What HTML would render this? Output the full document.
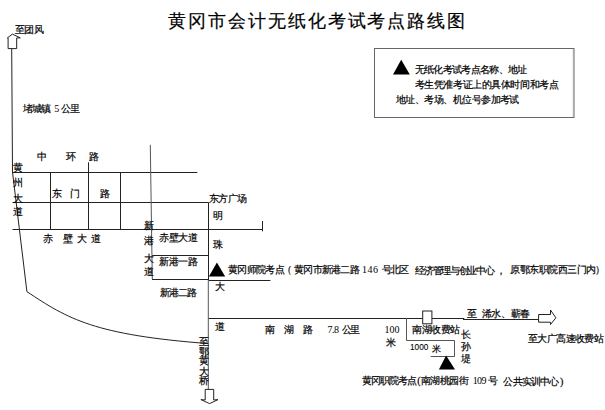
<!DOCTYPE html>
<html><head><meta charset="utf-8"><style>
html,body{margin:0;padding:0;background:#fff;width:605px;height:410px;overflow:hidden}
#c{position:relative;width:605px;height:410px}
#c div{position:absolute;font-family:"Liberation Serif",serif;font-size:10px;line-height:1;white-space:nowrap;color:#000;letter-spacing:-0.6px;-webkit-text-stroke:0.2px #000}
#c div.s{font-family:"Liberation Sans",sans-serif}
#title{color:#4a4a4a;-webkit-text-stroke:0}
</style></head><body><div id="c">
<svg width="605" height="410" viewBox="0 0 605 410" style="position:absolute;left:0;top:0">
<g fill="none" stroke="#222" stroke-width="1">
<path d="M11.7,48.6 L12.5,172 L26.9,291.6 C67.9,319 94.7,335 208.5,343.6"/>
<path d="M12.5,172.5 H197.3"/>
<path d="M12.5,202.5 H208.5"/>
<path d="M12.5,229.5 H262.5"/>
<path d="M50.5,172 V229.5"/>
<path d="M88.5,162.3 V229.5"/>
<path d="M120.5,172 V229.5"/>
<path d="M152,255.5 H208.5"/>
<path d="M152,279.5 H208.5"/>
<path d="M208.5,280.5 H270.4"/>
<path d="M208.5,202.5 V280"/>
<path d="M262.5,221 V231.3"/>
<path d="M208.5,318.5 H464.3"/>
<path d="M463,319.5 H538.6"/>
</g>
<g fill="none" stroke="#555" stroke-width="1">
<path d="M150.3,144.8 L152.3,279.3"/>
<path d="M208.3,280 V389.4"/>
<path d="M406.5,318 V340.5 H454.5 V356.5 H430.7"/>
</g>
<g fill="#fff" stroke="#222" stroke-width="1">
<rect x="422.7" y="311" width="9.2" height="12.8"/>
<path d="M538.6,314.5 H550.5 V310 L555.9,317.8 L550.5,324.5 V322.2 H538.6 Z"/>
<path d="M8.1,48.6 V37.9 H7.4 L12.4,34.1 L20.3,37.9 H16.7 V48.6 Z"/>
<path d="M205.2,389.4 V400 L200.9,399.6 L209.6,403.6 L218,399.6 L213.7,400 V389.4 Z"/>
</g>
<g fill="#000">
<path d="M208.9,276.4 L216.9,262.5 L225.2,276.4 Z"/>
<path d="M438.9,369.5 L446.1,355.4 L455,369.5 Z"/>
<path d="M393,74.4 L401.2,59.8 L409.8,74.4 Z"/>
</g>
<rect x="374.5" y="48.5" width="199.5" height="69" fill="none" stroke="#666" stroke-width="1"/>
<path d="M573.3,49 V117" stroke="#aaa" stroke-width="1" fill="none"/>
</svg>

<div id="title" class="s" style="left:167.90px;top:12.00px;letter-spacing:1.96px;font-size:18px">黄冈市会计无纸化考试考点路线图</div>
<div id="tuanfeng" style="left:15.20px;top:25.00px;letter-spacing:-0.80px">至团风</div>
<div id="dc1" style="left:22.90px;top:104.10px;letter-spacing:-0.80px">堵城镇</div>
<div id="dc2" style="left:54.30px;top:104.10px;-webkit-text-stroke:0">5</div>
<div id="dc3" style="left:61.10px;top:104.10px;letter-spacing:-1.40px">公里</div>
<div id="zh1" style="left:36.70px;top:151.60px">中</div>
<div id="zh2" style="left:65.60px;top:151.60px">环</div>
<div id="zh3" style="left:88.90px;top:151.60px">路</div>
<div id="dm1" style="left:52.00px;top:189.20px">东</div>
<div id="dm2" style="left:70.10px;top:189.20px">门</div>
<div id="dm3" style="left:100.10px;top:189.20px">路</div>
<div id="cb1" style="left:43.20px;top:233.90px">赤</div>
<div id="cb2" style="left:62.70px;top:233.90px">壁</div>
<div id="cb3" style="left:77.00px;top:233.90px">大</div>
<div id="cb4" style="left:91.10px;top:233.90px">道</div>
<div id="hz1" style="left:13.10px;top:163.00px">黄</div>
<div id="hz2" style="left:13.10px;top:178.40px">州</div>
<div id="hz3" style="left:13.10px;top:193.90px">大</div>
<div id="hz4" style="left:13.10px;top:207.00px">道</div>
<div id="dfgc" style="left:209.40px;top:193.90px;letter-spacing:-0.93px">东方广场</div>
<div id="ming" style="left:213.20px;top:210.90px">明</div>
<div id="zhu" style="left:213.20px;top:239.70px">珠</div>
<div id="da" style="left:214.70px;top:282.40px">大</div>
<div id="dao" style="left:214.70px;top:321.90px">道</div>
<div id="xg1" style="left:144.10px;top:220.60px">新</div>
<div id="xg2" style="left:144.10px;top:235.50px">港</div>
<div id="xg3" style="left:144.10px;top:254.40px">大</div>
<div id="xg4" style="left:144.10px;top:266.70px">道</div>
<div id="cbdd" style="left:159.40px;top:233.10px">赤壁大道</div>
<div id="xg1l" style="left:159.40px;top:257.40px">新港一路</div>
<div id="xg2l" style="left:160.00px;top:288.40px;letter-spacing:-0.93px">新港二路</div>
<div id="m1" style="left:227.90px;top:264.80px;letter-spacing:-0.64px">黄冈师院考点</div>
<div id="m2" style="left:281.60px;top:264.80px">（</div>
<div id="m3" style="left:294.20px;top:264.80px;letter-spacing:-0.77px">黄冈市新港二路</div>
<div id="m4" style="left:361.90px;top:264.80px;letter-spacing:0.50px;-webkit-text-stroke:0">146</div>
<div id="m5" style="left:381.70px;top:264.80px;letter-spacing:-1.50px">号北区</div>
<div id="m6" style="left:415.30px;top:265.80px;letter-spacing:-1.30px">经济管理与创业中心</div>
<div id="m7" style="left:495.80px;top:265.80px">，</div>
<div id="m8" style="left:510.40px;top:264.80px;letter-spacing:-0.52px">原鄂东职院西三门内</div>
<div id="m9" style="left:595.20px;top:264.80px">）</div>
<div id="nh1" style="left:264.80px;top:325.00px">南</div>
<div id="nh2" style="left:283.70px;top:325.00px">湖</div>
<div id="nh3" style="left:302.70px;top:325.00px">路</div>
<div id="km1" style="left:327.60px;top:325.20px;letter-spacing:-0.50px;-webkit-text-stroke:0">7.8</div>
<div id="km2" style="left:341.80px;top:325.20px;letter-spacing:-1.40px">公里</div>
<div id="h100" style="left:384.60px;top:325.10px;letter-spacing:-0.10px;-webkit-text-stroke:0">100</div>
<div id="mi" style="left:385.50px;top:338.40px">米</div>
<div id="sfz" style="left:412.40px;top:324.80px">南湖收费站</div>
<div id="k1000" class="s" style="left:409.50px;top:342.40px;letter-spacing:0.00px;font-size:9.5px;-webkit-text-stroke:0.1px #000;transform:scaleX(0.87);transform-origin:0 0">1000</div>
<div id="mi2" style="left:431.80px;top:344.80px;letter-spacing:0.00px;font-size:8.5px">米</div>
<div id="cs1" style="left:461.20px;top:330.00px">长</div>
<div id="cs2" style="left:461.20px;top:341.70px">孙</div>
<div id="cs3" style="left:461.20px;top:353.80px">堤</div>
<div id="xs1" style="left:467.20px;top:308.60px">至</div>
<div id="xs2" style="left:481.70px;top:308.60px;letter-spacing:-0.30px">浠水、蕲春</div>
<div id="dg" style="left:527.90px;top:334.10px;letter-spacing:-0.57px">至大广高速收费站</div>
<div id="b1" style="left:362.30px;top:376.20px;letter-spacing:-1.00px">黄冈职院考点</div>
<div id="b2" style="left:417.20px;top:376.20px">(</div>
<div id="b3" style="left:421.10px;top:376.20px">南湖桃园街</div>
<div id="b4" style="left:472.80px;top:376.20px;letter-spacing:-0.70px;-webkit-text-stroke:0">109</div>
<div id="b5" style="left:488.10px;top:376.20px">号</div>
<div id="b6" style="left:503.30px;top:377.20px;letter-spacing:-0.76px">公共实训中心</div>
<div id="b7" style="left:560.00px;top:377.20px">)</div>
<div id="eh1" style="left:199.40px;top:337.40px">至</div>
<div id="eh2" style="left:199.40px;top:346.80px">鄂</div>
<div id="eh3" style="left:199.40px;top:355.90px">黄</div>
<div id="eh4" style="left:199.40px;top:367.00px">大</div>
<div id="eh5" style="left:199.40px;top:376.40px">桥</div>
<div id="l1" style="left:414.80px;top:65.20px;letter-spacing:-0.67px">无纸化考试考点名称、地址</div>
<div id="l2" style="left:414.80px;top:79.90px;letter-spacing:-0.44px">考生凭准考证上的具体时间和考点</div>
<div id="l3" style="left:396.00px;top:94.50px;letter-spacing:-0.55px">地址、考场、机位号参加考试</div>
</div></body></html>
